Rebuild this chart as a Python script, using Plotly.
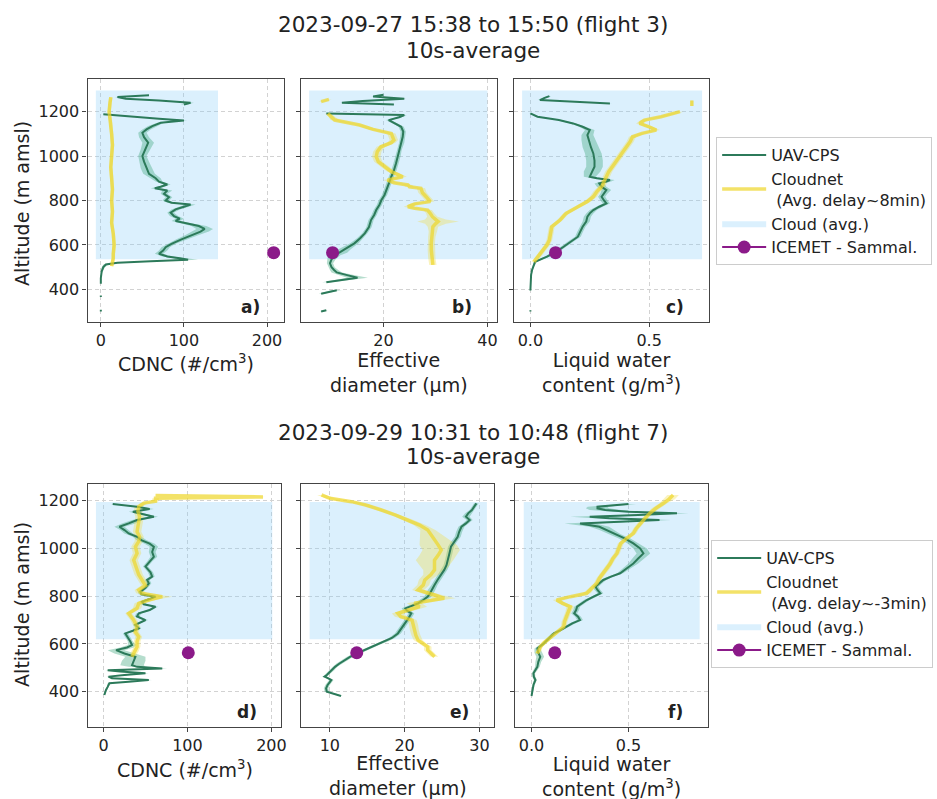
import plotly.graph_objects as go

W, H = 937, 799

# ---------------- data ----------------
ALT_TICKS = [400, 600, 800, 1000, 1200]

# Flight 3 ---------------------------------------------------------------
# a) CDNC
a_uav_alt = [300, 308, None, 365, 372, None, 425, 450, 480, 500, 512, 520, 527, 533, 540, 548, 560, 575, 590, 605,
             625, 645, 660, 672, 685, 700, 708, 718, 730, 745, 760, 772, 782, 790, 800, 815, 830, 845, 855, 862,
             872, 885, 900, 920, 945, 975, 1000, 1030, 1060, 1085, 1105, 1120, 1135, 1150, 1160, 1168, 1178, 1188,
             None, 1232, 1240, 1250, 1258, 1266, 1274]
a_uav_val = [0, 0, None, 0, 0, None, 0, 0, 1, 3, 6, 20, 60, 105, 95, 80, 70, 75, 78, 85,
             97, 110, 120, 125, 118, 100, 90, 95, 88, 84, 90, 100, 108, 85, 78, 82, 76, 80, 65, 72,
             80, 70, 66, 58, 55, 52, 50, 54, 57, 52, 50, 55, 62, 72, 100, 70, 35, 3,
             None, 100, 108, 70, 30, 20, 58]
a_uav_err = [0, 0, None, 0, 0, None, 0, 0, 1, 2, 3, 6, 10, 12, 8, 6, 5, 5, 5, 5,
             6, 8, 10, 10, 9, 6, 5, 5, 5, 4, 5, 6, 6, 5, 4, 4, 4, 6, 5, 4,
             4, 4, 6, 7, 7, 6, 5, 6, 7, 6, 5, 5, 5, 4, 4, 4, 3, 1,
             None, 4, 4, 4, 3, 3, 3]
a_cn_alt = [505, 520, 540, 560, 600, 650, 700, 750, 800, 850, 900, 950, 1000, 1050, 1100, 1150, 1200, 1240, 1265]
a_cn_val = [13, 14, 15, 15, 16, 15, 13, 14, 13, 14, 13, 12, 13, 14, 13, 12, 10, 11, 12]
a_cn_err = [2, 2, 2, 2, 2, 2, 2, 2, 2, 2, 2, 2, 2, 2, 2, 2, 2, 2, 2]

# b) effective diameter
b_uav_alt = [300, 306, None, 380, 388, 396, None, 432, 442, 452, 464, 476, 487, 500, 517, 535, 554, 565, 580, 607,
             630, 652, 680, 712, 735, 757, 780, 802, 825, 847, 875, 907, 935, 967, 1000, 1027, 1060, 1087, 1110,
             1132, 1150, 1162, 1175, 1185, 1192, None, 1232, 1240, 1248, 1258, 1268, 1276]
b_uav_val = [8, 9, None, 8, 9.5, 11, None, 9, 12, 15, 13, 11, 10.5, 10, 9.7, 10, 10.5, 11.5, 12.5, 14.4,
             15.5, 16.4, 17.2, 17.6, 18.2, 18.6, 19.2, 19.6, 20.2, 20.5, 21, 21.5, 22, 22.4, 22.8, 23, 23.5, 23.7,
             23.8, 23.4, 22, 21, 23, 24, 9, None, 22, 12, 16, 24, 18, 20]
b_uav_err = [0.3, 0.3, None, 0.5, 0.8, 1, None, 0.8, 1.5, 2, 1.5, 1, 0.8, 0.6, 0.6, 0.8, 1.2, 1.5, 1.2, 0.8,
             0.6, 0.5, 0.5, 0.5, 0.5, 0.5, 0.5, 0.5, 0.5, 0.5, 0.5, 0.5, 0.5, 0.5, 0.5, 0.5, 0.5, 0.5,
             0.5, 0.5, 0.5, 0.5, 0.5, 0.5, 0.3, None, 0.4, 0.4, 0.4, 0.4, 0.4, 0.4]
b_cn_alt = [510, 540, 577, 610, 637, 660, 682, 695, 705, 715, 727, 742, 757, 765, 772, 785, 795, 817, 835, 855,
            862, 870, 880, 892, 907, 930, 952, 975, 997, 1020, 1042, 1060, 1072, 1087, 1102, 1120, 1140, 1162,
            1178, 1192, None, 1245, 1255]
b_cn_val = [29.5, 29.3, 29.2, 29.2, 29.3, 29.5, 29.5, 30, 30.5, 30, 29.4, 29, 28.5, 26, 24.7, 26, 29, 28.2, 27.5, 27.2,
            25, 24.7, 22, 20.8, 23.7, 21.5, 20.2, 19, 18.6, 18.8, 19.5, 21.5, 22, 21.8, 21.5, 18, 15.4, 10.6,
            10, 9.3, None, 8, 9.5]
b_cn_err = [0.7, 0.7, 0.7, 0.7, 0.7, 0.8, 1, 2, 4, 2, 1, 0.8, 0.8, 0.8, 0.8, 0.8, 0.8, 0.8, 0.8, 0.8,
            0.8, 0.8, 0.8, 0.8, 0.8, 0.8, 0.8, 0.8, 0.8, 0.8, 0.8, 0.8, 0.8, 0.8, 0.8, 0.8, 0.8, 0.8,
            0.6, 0.6, None, 0.5, 0.5]

# c) liquid water content
c_uav_alt = [300, 306, None, 395, 420, 442, 465, 487, 505, 524, 547, 570, 592, 615, 637, 660, 682, 705, 727, 742,
             757, 772, 787, 800, 817, 832, 847, 862, 877, 885, 892, 900, 907, 930, 952, 980, 1012, 1040, 1072,
             1095, 1117, 1132, 1147, 1162, 1177, 1192, None, 1237, 1245, 1252, 1262, 1270]
c_uav_val = [0, 0, None, 0, 0, 0, 0.003, 0.007, 0.012, 0.02, 0.07, 0.11, 0.14, 0.17, 0.2, 0.21, 0.22, 0.235, 0.24,
             0.25, 0.265, 0.29, 0.32, 0.31, 0.30, 0.31, 0.32, 0.30, 0.29, 0.32, 0.335, 0.28, 0.25, 0.26, 0.27,
             0.27, 0.265, 0.255, 0.245, 0.24, 0.25, 0.22, 0.18, 0.12, 0.03, 0.0, None, 0.335, 0.2, 0.04, 0.06, 0.08]
c_uav_err = [0, 0, None, 0, 0, 0, 0.002, 0.003, 0.004, 0.006, 0.01, 0.012, 0.012, 0.012, 0.012, 0.012, 0.012,
             0.015, 0.015, 0.015, 0.015, 0.015, 0.015, 0.015, 0.015, 0.015, 0.02, 0.02, 0.02, 0.02, 0.02, 0.02,
             0.025, 0.035, 0.035, 0.035, 0.035, 0.035, 0.03, 0.025, 0.02, 0.015, 0.012, 0.01, 0.008, 0.005,
             None, 0.01, 0.01, 0.008, 0.008, 0.008]
c_cn_alt = [524, 550, 577, 600, 622, 650, 682, 712, 742, 772, 795, 817, 840, 862, 885, 907, 930, 952, 975, 997,
            1020, 1042, 1065, 1087, 1102, 1117, 1132, 1147, 1162, 1177, 1190, 1200, None, 1225, 1250]
c_cn_val = [0.015, 0.035, 0.055, 0.07, 0.08, 0.085, 0.09, 0.125, 0.15, 0.2, 0.24, 0.265, 0.28, 0.30, 0.31, 0.32,
            0.33, 0.345, 0.36, 0.377, 0.39, 0.405, 0.42, 0.43, 0.47, 0.53, 0.5, 0.46, 0.48, 0.55, 0.6, 0.63,
            None, 0.68, 0.68]
c_cn_err = [0.01, 0.012, 0.012, 0.012, 0.012, 0.012, 0.012, 0.012, 0.012, 0.012, 0.015, 0.015, 0.015, 0.015,
            0.015, 0.015, 0.015, 0.015, 0.015, 0.015, 0.015, 0.015, 0.015, 0.015, 0.015, 0.015, 0.015, 0.015,
            0.015, 0.015, 0.015, 0.015, None, 0.005, 0.005]

cloud3_alt = [535, 1295]
cloud3_cdnc = [-6, 141]
cloud3_deff = [5.7, 40]
cloud3_lwc = [-0.035, 0.723]

ice3_alt = 565
ice3_cdnc = 208
ice3_deff = 10.2
ice3_lwc = 0.106

# Flight 7 ---------------------------------------------------------------
# d) CDNC
d_uav_alt = [386, 398, 407, 420, 435, 442, 449, 456, 463, 470, 477, 484, 490, 497, 504, 511, 530, 546, 560, 574,
             585, 595, 610, 623, 644, 655, 665, 680, 700, 715, 728, 742, 756, 766, 777, 788, 798, 808, 819, 835,
             854, 868, 882, 900, 924, 945, 965, 985, 1007, 1020, 1035, 1049, 1063, 1077, 1091, 1105, 1119, 1133,
             1145, 1154, 1165, 1175, 1186]
d_uav_val = [1, 2, 3, 5, 7, 30, 54, 10, 6, 25, 50, 20, 5, 70, 40, 34, 36, 38, 25, 15,
             28, 34, 32, 30, 26, 35, 42, 38, 50, 40, 42, 55, 62, 48, 46, 55, 62, 45, 44, 50,
             54, 52, 58, 56, 50, 55, 60, 58, 60, 55, 45, 40, 30, 25, 19, 30, 40, 60,
             45, 35, 55, 40, 11]
d_uav_err = [1, 1, 1, 1, 2, 3, 4, 2, 2, 3, 4, 3, 3, 6, 10, 14, 14, 12, 12, 10,
             8, 5, 3, 3, 3, 3, 3, 3, 3, 3, 3, 3, 3, 3, 3, 3, 3, 3, 3, 3,
             3, 3, 3, 3, 3, 3, 4, 4, 5, 6, 6, 5, 5, 5, 6, 8, 6, 5,
             5, 5, 5, 4, 3]
d_cn_alt = [546, 570, 588, 610, 630, 650, 672, 700, 728, 750, 770, 785, 798, 812, 826, 845, 868, 890, 910, 930,
            951, 980, 1007, 1030, 1049, 1070, 1091, 1112, 1133, 1155, 1175, 1190, 1198, 1210, 1216, 1222]
d_cn_val = [34, 38, 40, 40, 42, 38, 40, 36, 30, 40, 42, 55, 70, 45, 42, 50, 46, 42, 40, 38,
            36, 40, 38, 42, 43, 40, 41, 42, 43, 41, 42, 48, 62, 62, 190, 62]
d_cn_err = [4, 4, 4, 4, 4, 4, 4, 4, 4, 5, 5, 8, 12, 6, 5, 5, 5, 5, 5, 5,
            5, 5, 5, 5, 5, 5, 5, 5, 5, 5, 5, 4, 4, 4, 5, 4]

# e) effective diameter
e_uav_alt = [382, 392, 400, 414, 428, 440, 449, 456, 463, 470, 477, 490, 504, 518, 532, 546, 560, 574, 588, 600,
             609, 625, 644, 665, 686, 707, 728, 740, 749, 760, 770, 784, 798, 812, 826, 847, 868, 890, 910, 930,
             951, 980, 1007, 1028, 1049, 1070, 1091, 1105, 1119, 1133, 1147, 1161, 1175, 1189]
e_uav_val = [11.5, 10.5, 9.6, 9.5, 9.7, 10, 10.2, 9.8, 9.3, 9.6, 9.8, 10.3, 10.7, 11.3, 12, 12.7, 13.6, 14.6, 15.6,
             16.5, 17.3, 18.3, 19.1, 19.6, 20, 20.5, 20.9, 20.3, 20.1, 21, 21.8, 22.5, 23.1, 23.4, 23.6, 24, 24.4,
             24.9, 25.3, 25.6, 25.8, 26, 26.2, 26.6, 27.1, 27.3, 27.6, 28.2, 28.7, 28.2, 28.5, 29, 29.3, 29.6]
e_uav_err = [0.2, 0.3, 0.3, 0.3, 0.3, 0.3, 0.3, 0.3, 0.3, 0.3, 0.3, 0.3, 0.3, 0.4, 0.4, 0.4, 0.4, 0.4, 0.4, 0.4,
             0.4, 0.4, 0.4, 0.4, 0.4, 0.4, 0.4, 0.5, 0.5, 0.5, 0.5, 0.5, 0.5, 0.5, 0.5, 0.4, 0.4, 0.4, 0.4, 0.4,
             0.4, 0.4, 0.4, 0.4, 0.4, 0.4, 0.4, 0.4, 0.4, 0.5, 0.4, 0.3, 0.3, 0.3]
e_cn_alt = [546, 560, 574, 588, 602, 616, 637, 658, 680, 700, 714, 728, 742, 756, 770, 780, 791, 805, 826, 847,
            868, 890, 910, 930, 951, 972, 993, 1014, 1035, 1056, 1077, 1098, 1119, 1140, 1161, 1182, 1196, 1210,
            1224]
e_cn_val = [24, 23.6, 23.1, 23.1, 22.4, 21.8, 21.5, 21.3, 21.2, 21, 19.5, 19.1, 20.5, 22, 21.3, 23, 25.3, 24, 21.8,
            22.5, 22.7, 23.5, 24, 24, 24, 24.5, 24.9, 24.5, 24, 23.6, 23.1, 22, 20.4, 18.8, 16.9, 14.8, 12.9, 10,
            8.9]
e_cn_err = [0.5, 0.5, 0.5, 0.5, 0.5, 0.6, 0.6, 0.6, 0.6, 0.6, 0.8, 0.8, 0.8, 1, 1, 1.2, 1.5, 1, 0.8,
            0.8, 0.8, 1, 1.5, 2, 2.5, 2.5, 2.5, 2.5, 2, 1.5, 1, 0.8, 0.8, 0.6, 0.6, 0.6, 0.6, 0.6, 0.6]

# f) liquid water content
f_uav_alt = [382, 395, 407, 428, 449, 463, 477, 490, 504, 525, 546, 563, 581, 602, 623, 644, 658, 672, 686, 700,
             714, 728, 742, 756, 770, 784, 798, 812, 826, 840, 854, 868, 882, 896, 916, 937, 958, 979, 1000, 1021,
             1042, 1060, 1077, 1091, 1105, 1112, 1119, 1126, 1133, 1140, 1147, 1154, 1161, 1168, 1175, 1186]
f_uav_val = [0, 0.003, 0.005, 0.01, 0.02, 0.012, 0.01, 0.02, 0.03, 0.035, 0.045, 0.035, 0.03, 0.063, 0.09, 0.115,
             0.15, 0.18, 0.21, 0.25, 0.24, 0.22, 0.23, 0.235, 0.26, 0.285, 0.32, 0.355, 0.34, 0.33, 0.35, 0.37,
             0.41, 0.457, 0.49, 0.525, 0.55, 0.577, 0.56, 0.525, 0.48, 0.43, 0.39, 0.35, 0.25, 0.45, 0.66, 0.4,
             0.3, 0.55, 0.75, 0.5, 0.38, 0.34, 0.34, 0.5]
f_uav_err = [0.003, 0.004, 0.005, 0.006, 0.008, 0.008, 0.008, 0.01, 0.012, 0.015, 0.02, 0.02, 0.015, 0.012, 0.012,
             0.012, 0.012, 0.015, 0.015, 0.015, 0.015, 0.015, 0.015, 0.015, 0.015, 0.015, 0.015, 0.015, 0.015,
             0.015, 0.015, 0.015, 0.015, 0.015, 0.02, 0.025, 0.03, 0.035, 0.035, 0.03, 0.03, 0.03, 0.04, 0.05,
             0.08, 0.08, 0.06, 0.08, 0.1, 0.08, 0.06, 0.08, 0.08, 0.06, 0.05, 0.04]
f_cn_alt = [560, 574, 588, 609, 630, 651, 672, 693, 714, 735, 756, 770, 784, 798, 812, 833, 854, 875, 896, 916,
            937, 958, 979, 1000, 1021, 1042, 1063, 1084, 1105, 1126, 1147, 1168, 1189, 1207, 1224]
f_cn_val = [0.03, 0.04, 0.045, 0.07, 0.1, 0.13, 0.166, 0.17, 0.18, 0.19, 0.2, 0.16, 0.13, 0.2, 0.285, 0.31, 0.337,
            0.35, 0.37, 0.39, 0.406, 0.42, 0.44, 0.45, 0.46, 0.49, 0.525, 0.54, 0.56, 0.585, 0.61, 0.64, 0.68,
            0.71, 0.73]
f_cn_err = [0.012, 0.012, 0.012, 0.015, 0.015, 0.015, 0.015, 0.015, 0.015, 0.015, 0.02, 0.02, 0.02, 0.02, 0.02,
            0.015, 0.015, 0.015, 0.015, 0.015, 0.015, 0.015, 0.015, 0.015, 0.015, 0.015, 0.015, 0.015, 0.015,
            0.015, 0.015, 0.02, 0.02, 0.03, 0.03]

cloud7_alt = [620, 1195]
cloud7_cdnc = [-9, 201]
cloud7_deff = [7.3, 31]
cloud7_lwc = [-0.04, 0.867]

ice7_alt = 563
ice7_cdnc = 101
ice7_deff = 13.6
ice7_lwc = 0.12

TITLES = ["2023-09-27 15:38 to 15:50 (flight 3)", "2023-09-29 10:31 to 10:48 (flight 7)"]
SUBTITLE = "10s-average"
CN_NAMES = ["Cloudnet<br> (Avg. delay~8min)", "Cloudnet<br> (Avg. delay~-3min)"]

# ---------------- styling ----------------
FONT = "DejaVu Sans"
TXT = "#222222"
GREEN = "#2c7a5a"
GREEN_BAND = "rgba(70,170,130,0.40)"
YELLOW = "rgba(238,214,40,0.70)"
YELLOW_BAND = "rgba(240,220,70,0.35)"
CLOUD = "rgba(135,206,250,0.30)"
PURPLE = "#8b1a89"
FRAME = "#444444"

fig = go.Figure()


def segs(alt, val, err):
    cur = []
    for a, v, e in zip(alt, val, err):
        if a is None:
            if cur:
                yield cur
            cur = []
        else:
            cur.append((a, v, e))
    if cur:
        yield cur


panels = [
    dict(n=1, xd=(88, 286), yd=(79, 322), xr=[-16, 221], yr=[253, 1347], tv=[0, 100, 200], tt=["0", "100", "200"],
         uav=(a_uav_alt, a_uav_val, a_uav_err), cn=(a_cn_alt, a_cn_val, a_cn_err),
         cloud=(cloud3_cdnc, cloud3_alt), ice=(ice3_cdnc, ice3_alt), leg="legend", cnname=CN_NAMES[0],
         lab="a)", showleg=True, ylab=True),
    dict(n=2, xd=(303, 500), yd=(79, 322), xr=[4.2, 41.9], yr=[253, 1347], tv=[20, 40], tt=["20", "40"],
         uav=(b_uav_alt, b_uav_val, b_uav_err), cn=(b_cn_alt, b_cn_val, b_cn_err),
         cloud=(cloud3_deff, cloud3_alt), ice=(ice3_deff, ice3_alt), leg="legend", cnname=CN_NAMES[0],
         lab="b)", showleg=False, ylab=False),
    dict(n=3, xd=(517, 713), yd=(79, 322), xr=[-0.068, 0.753], yr=[253, 1347], tv=[0, 0.5], tt=["0.0", "0.5"],
         uav=(c_uav_alt, c_uav_val, c_uav_err), cn=(c_cn_alt, c_cn_val, c_cn_err),
         cloud=(cloud3_lwc, cloud3_alt), ice=(ice3_lwc, ice3_alt), leg="legend", cnname=CN_NAMES[0],
         lab="c)", showleg=False, ylab=False),
    dict(n=4, xd=(88, 283), yd=(484, 727), xr=[-19, 212], yr=[252, 1270], tv=[0, 100, 200], tt=["0", "100", "200"],
         uav=(d_uav_alt, d_uav_val, d_uav_err), cn=(d_cn_alt, d_cn_val, d_cn_err),
         cloud=(cloud7_cdnc, cloud7_alt), ice=(ice7_cdnc, ice7_alt), leg="legend2", cnname=CN_NAMES[1],
         lab="d)", showleg=True, ylab=True),
    dict(n=5, xd=(303, 497), yd=(484, 727), xr=[6.2, 32], yr=[252, 1270], tv=[10, 20, 30], tt=["10", "20", "30"],
         uav=(e_uav_alt, e_uav_val, e_uav_err), cn=(e_cn_alt, e_cn_val, e_cn_err),
         cloud=(cloud7_deff, cloud7_alt), ice=(ice7_deff, ice7_alt), leg="legend2", cnname=CN_NAMES[1],
         lab="e)", showleg=False, ylab=False),
    dict(n=6, xd=(518, 712), yd=(484, 727), xr=[-0.084, 0.911], yr=[252, 1270], tv=[0, 0.5], tt=["0.0", "0.5"],
         uav=(f_uav_alt, f_uav_val, f_uav_err), cn=(f_cn_alt, f_cn_val, f_cn_err),
         cloud=(cloud7_lwc, cloud7_alt), ice=(ice7_lwc, ice7_alt), leg="legend2", cnname=CN_NAMES[1],
         lab="f)", showleg=False, ylab=False),
]

annotations = []
layout_axes = {}
for p in panels:
    n = p["n"]
    xa = "x" if n == 1 else f"x{n}"
    ya = "y" if n == 1 else f"y{n}"
    ax = dict(xaxis=xa, yaxis=ya)

    # cloud box
    cx, cy = p["cloud"]
    fig.add_trace(go.Scatter(x=[cx[0], cx[1], cx[1], cx[0], cx[0]], y=[cy[0], cy[0], cy[1], cy[1], cy[0]],
                             mode="lines", fill="toself", fillcolor=CLOUD, line=dict(width=0),
                             name="Cloud (avg.)", legend=p["leg"], legendrank=3, showlegend=p["showleg"],
                             hoverinfo="skip", **ax))
    # bands
    for (alt, val, err), col in ((p["uav"], GREEN_BAND), (p["cn"], YELLOW_BAND)):
        for s in segs(alt, val, err):
            ys = [q[0] for q in s]
            lo = [q[1] - q[2] for q in s]
            hi = [q[1] + q[2] for q in s]
            fig.add_trace(go.Scatter(x=lo + hi[::-1], y=ys + ys[::-1], mode="lines", fill="toself",
                                     fillcolor=col, line=dict(width=0), showlegend=False, hoverinfo="skip", **ax))
    # UAV line
    alt, val, _ = p["uav"]
    fig.add_trace(go.Scatter(x=val, y=alt, mode="lines", line=dict(color=GREEN, width=2),
                             name="UAV-CPS", legend=p["leg"], legendrank=1, showlegend=p["showleg"],
                             connectgaps=False, **ax))
    # Cloudnet line
    alt, val, _ = p["cn"]
    fig.add_trace(go.Scatter(x=val, y=alt, mode="lines", line=dict(color=YELLOW, width=3.5),
                             name=p["cnname"], legend=p["leg"], legendrank=2, showlegend=p["showleg"],
                             connectgaps=False, **ax))
    # ICEMET point
    ix, iy = p["ice"]
    fig.add_trace(go.Scatter(x=[ix], y=[iy], mode="lines+markers", line=dict(color=PURPLE, width=2),
                             marker=dict(color=PURPLE, size=13),
                             name="ICEMET - Sammal.", legend=p["leg"], legendrank=4, showlegend=p["showleg"],
                             **ax))

    xkey = "xaxis" if n == 1 else f"xaxis{n}"
    ykey = "yaxis" if n == 1 else f"yaxis{n}"
    common = dict(showline=True, mirror=True, linecolor=FRAME, linewidth=1.2, ticks="outside", ticklen=4,
                  tickcolor=FRAME, showgrid=True, gridcolor="#d2d2d2", griddash="4px,3px", gridwidth=1,
                  zeroline=False, tickfont=dict(family=FONT, size=16, color=TXT))
    layout_axes[xkey] = dict(domain=[p["xd"][0] / W, p["xd"][1] / W], range=p["xr"], anchor=ya,
                             tickmode="array", tickvals=p["tv"], ticktext=p["tt"], **common)
    layout_axes[ykey] = dict(domain=[1 - p["yd"][1] / H, 1 - p["yd"][0] / H], range=p["yr"], anchor=xa,
                             tickmode="array", tickvals=ALT_TICKS, ticktext=[str(t) for t in ALT_TICKS],
                             showticklabels=p["ylab"], **common)

    # panel label
    annotations.append(dict(text=f"<b>{p['lab']}</b>", x=(p["xd"][1] - 23) / W, y=1 - (p["yd"][1] - 15) / H,
                            xref="paper", yref="paper", xanchor="right", yanchor="middle", showarrow=False,
                            font=dict(family=FONT, size=17, color=TXT)))

# x-axis titles
XT = [("CDNC (#/cm<sup>3</sup>)", 187, 363), ("Effective<br>diameter (µm)", 401, 373),
      ("Liquid water<br>content (g/m<sup>3</sup>)", 615, 373),
      ("CDNC (#/cm<sup>3</sup>)", 186, 769), ("Effective<br>diameter (µm)", 400, 775),
      ("Liquid water<br>content (g/m<sup>3</sup>)", 615, 776)]
for t, xp, yp in XT:
    annotations.append(dict(text=t, x=xp / W, y=1 - yp / H, xref="paper", yref="paper", xanchor="center",
                            yanchor="middle", showarrow=False, font=dict(family=FONT, size=19, color=TXT)))
# y-axis titles
for yp in (203, 604):
    annotations.append(dict(text="Altitude (m amsl)", x=22 / W, y=1 - yp / H, xref="paper", yref="paper",
                            xanchor="center", yanchor="middle", textangle=-90, showarrow=False,
                            font=dict(family=FONT, size=19, color=TXT)))
# titles
for t, yp in ((TITLES[0], 24), (SUBTITLE, 50), (TITLES[1], 432), (SUBTITLE, 457)):
    annotations.append(dict(text=t, x=476 / W, y=1 - yp / H, xref="paper", yref="paper", xanchor="center",
                            yanchor="middle", showarrow=False, font=dict(family=FONT, size=21.5, color=TXT)))

leg_common = dict(xanchor="left", yanchor="top", bgcolor="white", bordercolor="#cccccc", borderwidth=1,
                  font=dict(family=FONT, size=16, color=TXT), tracegroupgap=0, traceorder="normal",
                  itemwidth=44)

fig.update_layout(
    width=W, height=H, margin=dict(l=0, r=0, t=0, b=0), paper_bgcolor="white", plot_bgcolor="white",
    font=dict(family=FONT, color=TXT), annotations=annotations,
    legend=dict(x=720 / W, y=1 - 137 / H, **leg_common),
    legend2=dict(x=715 / W, y=1 - 540 / H, **leg_common),
    **layout_axes,
)

fig.write_html("out.html")
